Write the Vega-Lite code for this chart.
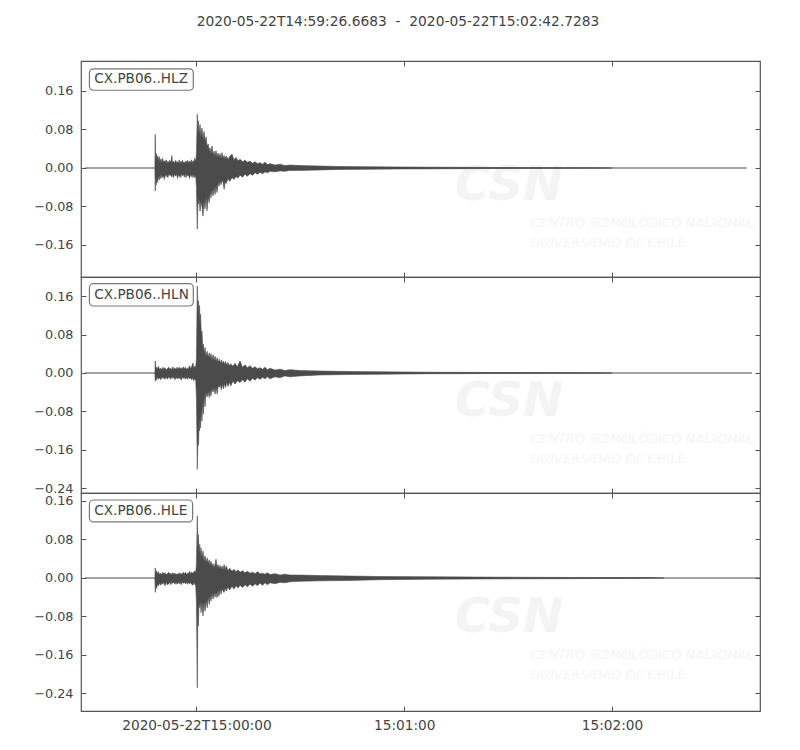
{
"$schema": "https://vega.github.io/schema/vega-lite/v6.json",
"padding": {"left": 33, "top": 15, "right": 5, "bottom": 5},
"title": {"text": "2020-05-22T14:59:26.6683 \u00a0-\u00a0 2020-05-22T15:02:42.7283", "fontSize": 13.8, "fontWeight": "normal", "color": "#444", "anchor": "middle", "frame": "bounds", "offset": 31, "font": "DejaVu Sans"},
"spacing": 0,
"bounds": "flush",
"resolve": {"scale": {"y": "independent"}},
"datasets": {
"env_z": [
{"t":-12.0,"hi":0,"lo":0},{"t":-11.9,"hi":0.070,"lo":-0.048},{"t":-11.75,"hi":0.02,"lo":-0.02},{"t":-11.6,"hi":0.03,"lo":-0.035},{"t":-11.4,"hi":0.018,"lo":-0.02},{"t":-11.2,"hi":0.025,"lo":-0.03},{"t":-11.0,"hi":0.015,"lo":-0.018},{"t":-10.75,"hi":0.024,"lo":-0.025},{"t":-10.5,"hi":0.012,"lo":-0.015},{"t":-10.25,"hi":0.019,"lo":-0.022},{"t":-10.0,"hi":0.012,"lo":-0.014},{"t":-9.75,"hi":0.02,"lo":-0.02},{"t":-9.5,"hi":0.011,"lo":-0.016},{"t":-9.25,"hi":0.015,"lo":-0.024},{"t":-9.0,"hi":0.012,"lo":-0.013},{"t":-8.75,"hi":0.017,"lo":-0.018},{"t":-8.5,"hi":0.01,"lo":-0.014},{"t":-8.25,"hi":0.014,"lo":-0.02},{"t":-8.0,"hi":0.011,"lo":-0.012},{"t":-7.7,"hi":0.016,"lo":-0.016},{"t":-7.4,"hi":0.011,"lo":-0.014},{"t":-7.1,"hi":0.026,"lo":-0.019},{"t":-6.9,"hi":0.01,"lo":-0.013},{"t":-6.6,"hi":0.014,"lo":-0.02},{"t":-6.3,"hi":0.01,"lo":-0.012},{"t":-6.0,"hi":0.016,"lo":-0.017},{"t":-5.7,"hi":0.011,"lo":-0.013},{"t":-5.45,"hi":0.013,"lo":-0.022},{"t":-5.2,"hi":0.01,"lo":-0.013},{"t":-5.0,"hi":0.017,"lo":-0.018},{"t":-4.75,"hi":0.01,"lo":-0.014},{"t":-4.5,"hi":0.014,"lo":-0.02},{"t":-4.25,"hi":0.011,"lo":-0.012},{"t":-4.0,"hi":0.016,"lo":-0.016},{"t":-3.75,"hi":0.01,"lo":-0.013},{"t":-3.5,"hi":0.013,"lo":-0.019},{"t":-3.25,"hi":0.01,"lo":-0.012},{"t":-3.0,"hi":0.015,"lo":-0.02},{"t":-2.75,"hi":0.011,"lo":-0.013},{"t":-2.5,"hi":0.016,"lo":-0.017},{"t":-2.25,"hi":0.01,"lo":-0.014},{"t":-2.0,"hi":0.014,"lo":-0.022},{"t":-1.75,"hi":0.011,"lo":-0.013},{"t":-1.5,"hi":0.017,"lo":-0.018},{"t":-1.25,"hi":0.01,"lo":-0.014},{"t":-1.0,"hi":0.015,"lo":-0.02},{"t":-0.75,"hi":0.012,"lo":-0.013},{"t":-0.5,"hi":0.02,"lo":-0.02},{"t":-0.2,"hi":0.014,"lo":-0.016},{"t":0.0,"hi":0.03,"lo":-0.04},{"t":0.25,"hi":0.112,"lo":-0.127},{"t":0.45,"hi":0.07,"lo":-0.06},{"t":0.6,"hi":0.098,"lo":-0.075},{"t":0.8,"hi":0.07,"lo":-0.065},{"t":1.04,"hi":0.09,"lo":-0.09},{"t":1.3,"hi":0.065,"lo":-0.07},{"t":1.6,"hi":0.083,"lo":-0.08},{"t":1.9,"hi":0.06,"lo":-0.1},{"t":2.2,"hi":0.076,"lo":-0.07},{"t":2.48,"hi":0.055,"lo":-0.085},{"t":2.8,"hi":0.065,"lo":-0.06},{"t":3.06,"hi":0.045,"lo":-0.089},{"t":3.4,"hi":0.05,"lo":-0.06},{"t":3.7,"hi":0.035,"lo":-0.072},{"t":3.93,"hi":0.042,"lo":-0.05},{"t":4.2,"hi":0.03,"lo":-0.062},{"t":4.5,"hi":0.046,"lo":-0.045},{"t":4.8,"hi":0.028,"lo":-0.058},{"t":5.1,"hi":0.035,"lo":-0.04},{"t":5.37,"hi":0.025,"lo":-0.055},{"t":5.65,"hi":0.036,"lo":-0.038},{"t":5.95,"hi":0.024,"lo":-0.051},{"t":6.25,"hi":0.031,"lo":-0.03},{"t":6.5,"hi":0.022,"lo":-0.038},{"t":6.81,"hi":0.03,"lo":-0.028},{"t":7.1,"hi":0.02,"lo":-0.035},{"t":7.39,"hi":0.032,"lo":-0.026},{"t":7.7,"hi":0.021,"lo":-0.03},{"t":8.0,"hi":0.026,"lo":-0.044},{"t":8.26,"hi":0.019,"lo":-0.03},{"t":8.6,"hi":0.025,"lo":-0.032},{"t":9.12,"hi":0.018,"lo":-0.022},{"t":9.6,"hi":0.024,"lo":-0.028},{"t":10.28,"hi":0.029,"lo":-0.02},{"t":10.8,"hi":0.017,"lo":-0.024},{"t":11.43,"hi":0.022,"lo":-0.018},{"t":12.0,"hi":0.015,"lo":-0.021},{"t":12.59,"hi":0.018,"lo":-0.015},{"t":13.3,"hi":0.013,"lo":-0.019},{"t":14.03,"hi":0.016,"lo":-0.013},{"t":14.7,"hi":0.012,"lo":-0.017},{"t":15.48,"hi":0.014,"lo":-0.012},{"t":16.2,"hi":0.01,"lo":-0.015},{"t":16.92,"hi":0.013,"lo":-0.01},{"t":17.6,"hi":0.009,"lo":-0.013},{"t":18.37,"hi":0.011,"lo":-0.009},{"t":19.1,"hi":0.008,"lo":-0.012},{"t":19.8,"hi":0.012,"lo":-0.008},{"t":20.5,"hi":0.007,"lo":-0.01},{"t":21.25,"hi":0.009,"lo":-0.007},{"t":22.7,"hi":0.006,"lo":-0.008},{"t":24.14,"hi":0.008,"lo":-0.006},{"t":25.5,"hi":0.005,"lo":-0.007},{"t":27.0,"hi":0.006,"lo":-0.005},{"t":29.9,"hi":0.005,"lo":-0.005},{"t":35.7,"hi":0.004,"lo":-0.004},{"t":41.5,"hi":0.003,"lo":-0.003},{"t":50.1,"hi":0.0025,"lo":-0.0025},{"t":58.8,"hi":0.002,"lo":-0.002},{"t":73.2,"hi":0.0015,"lo":-0.0015},{"t":87.7,"hi":0.001,"lo":-0.001},{"t":116.6,"hi":0.0007,"lo":-0.0007},{"t":120,"hi":0,"lo":0}
],
"env_n": [
{"t":-12.0,"hi":0,"lo":0},{"t":-11.9,"hi":0.025,"lo":-0.017},{"t":-11.7,"hi":0.009,"lo":-0.01},{"t":-11.5,"hi":0.012,"lo":-0.015},{"t":-11.25,"hi":0.008,"lo":-0.009},{"t":-11.0,"hi":0.014,"lo":-0.012},{"t":-10.7,"hi":0.008,"lo":-0.01},{"t":-10.3,"hi":0.01,"lo":-0.014},{"t":-10.0,"hi":0.007,"lo":-0.009},{"t":-9.7,"hi":0.012,"lo":-0.011},{"t":-9.4,"hi":0.008,"lo":-0.01},{"t":-9.1,"hi":0.011,"lo":-0.013},{"t":-8.7,"hi":0.007,"lo":-0.008},{"t":-8.4,"hi":0.009,"lo":-0.013},{"t":-8.0,"hi":0.012,"lo":-0.009},{"t":-7.7,"hi":0.008,"lo":-0.01},{"t":-7.4,"hi":0.01,"lo":-0.013},{"t":-7.1,"hi":0.007,"lo":-0.008},{"t":-6.8,"hi":0.013,"lo":-0.011},{"t":-6.5,"hi":0.008,"lo":-0.009},{"t":-6.2,"hi":0.01,"lo":-0.014},{"t":-5.9,"hi":0.008,"lo":-0.009},{"t":-5.6,"hi":0.012,"lo":-0.012},{"t":-5.3,"hi":0.008,"lo":-0.01},{"t":-5.0,"hi":0.012,"lo":-0.012},{"t":-4.7,"hi":0.009,"lo":-0.009},{"t":-4.4,"hi":0.011,"lo":-0.015},{"t":-4.1,"hi":0.008,"lo":-0.01},{"t":-3.8,"hi":0.013,"lo":-0.011},{"t":-3.5,"hi":0.009,"lo":-0.009},{"t":-3.2,"hi":0.012,"lo":-0.013},{"t":-2.9,"hi":0.008,"lo":-0.009},{"t":-2.6,"hi":0.01,"lo":-0.013},{"t":-2.3,"hi":0.009,"lo":-0.009},{"t":-2.0,"hi":0.015,"lo":-0.012},{"t":-1.7,"hi":0.009,"lo":-0.01},{"t":-1.4,"hi":0.013,"lo":-0.014},{"t":-1.0,"hi":0.021,"lo":-0.011},{"t":-0.75,"hi":0.01,"lo":-0.016},{"t":-0.5,"hi":0.014,"lo":-0.012},{"t":-0.2,"hi":0.012,"lo":-0.016},{"t":0.0,"hi":0.03,"lo":-0.05},{"t":0.25,"hi":0.181,"lo":-0.2},{"t":0.45,"hi":0.13,"lo":-0.13},{"t":0.6,"hi":0.15,"lo":-0.15},{"t":0.75,"hi":0.12,"lo":-0.11},{"t":0.9,"hi":0.14,"lo":-0.12},{"t":1.04,"hi":0.1,"lo":-0.09},{"t":1.2,"hi":0.122,"lo":-0.114},{"t":1.4,"hi":0.08,"lo":-0.075},{"t":1.6,"hi":0.087,"lo":-0.1},{"t":1.8,"hi":0.055,"lo":-0.06},{"t":2.0,"hi":0.06,"lo":-0.086},{"t":2.25,"hi":0.04,"lo":-0.045},{"t":2.48,"hi":0.053,"lo":-0.07},{"t":2.75,"hi":0.035,"lo":-0.04},{"t":3.06,"hi":0.045,"lo":-0.05},{"t":3.4,"hi":0.032,"lo":-0.04},{"t":3.7,"hi":0.042,"lo":-0.051},{"t":3.93,"hi":0.03,"lo":-0.036},{"t":4.2,"hi":0.04,"lo":-0.048},{"t":4.5,"hi":0.027,"lo":-0.032},{"t":4.8,"hi":0.038,"lo":-0.04},{"t":5.1,"hi":0.026,"lo":-0.03},{"t":5.37,"hi":0.035,"lo":-0.044},{"t":5.7,"hi":0.024,"lo":-0.03},{"t":6.0,"hi":0.032,"lo":-0.044},{"t":6.3,"hi":0.022,"lo":-0.026},{"t":6.6,"hi":0.029,"lo":-0.03},{"t":6.9,"hi":0.02,"lo":-0.024},{"t":7.2,"hi":0.027,"lo":-0.035},{"t":7.5,"hi":0.019,"lo":-0.023},{"t":7.8,"hi":0.025,"lo":-0.033},{"t":8.1,"hi":0.018,"lo":-0.022},{"t":8.4,"hi":0.024,"lo":-0.03},{"t":8.8,"hi":0.016,"lo":-0.02},{"t":9.12,"hi":0.022,"lo":-0.028},{"t":9.5,"hi":0.015,"lo":-0.019},{"t":9.9,"hi":0.019,"lo":-0.027},{"t":10.5,"hi":0.014,"lo":-0.017},{"t":11.15,"hi":0.02,"lo":-0.023},{"t":11.8,"hi":0.013,"lo":-0.016},{"t":12.59,"hi":0.025,"lo":-0.02},{"t":13.3,"hi":0.012,"lo":-0.014},{"t":14.03,"hi":0.017,"lo":-0.019},{"t":14.7,"hi":0.011,"lo":-0.012},{"t":15.48,"hi":0.015,"lo":-0.017},{"t":16.2,"hi":0.01,"lo":-0.011},{"t":16.92,"hi":0.013,"lo":-0.015},{"t":17.6,"hi":0.009,"lo":-0.01},{"t":18.37,"hi":0.011,"lo":-0.013},{"t":19.1,"hi":0.008,"lo":-0.009},{"t":19.8,"hi":0.012,"lo":-0.012},{"t":20.5,"hi":0.007,"lo":-0.008},{"t":21.25,"hi":0.01,"lo":-0.012},{"t":22.7,"hi":0.006,"lo":-0.008},{"t":24.14,"hi":0.008,"lo":-0.01},{"t":25.5,"hi":0.005,"lo":-0.006},{"t":27.0,"hi":0.007,"lo":-0.008},{"t":29.9,"hi":0.005,"lo":-0.006},{"t":35.7,"hi":0.004,"lo":-0.004},{"t":44.3,"hi":0.003,"lo":-0.003},{"t":53.0,"hi":0.0025,"lo":-0.0025},{"t":67.4,"hi":0.0015,"lo":-0.0015},{"t":87.7,"hi":0.001,"lo":-0.001},{"t":116.6,"hi":0.0007,"lo":-0.0007},{"t":120,"hi":0,"lo":0}
],
"env_e": [
{"t":-12.0,"hi":0,"lo":0},{"t":-11.9,"hi":0.021,"lo":-0.03},{"t":-11.7,"hi":0.01,"lo":-0.014},{"t":-11.5,"hi":0.015,"lo":-0.022},{"t":-11.25,"hi":0.009,"lo":-0.012},{"t":-11.0,"hi":0.013,"lo":-0.017},{"t":-10.7,"hi":0.008,"lo":-0.011},{"t":-10.3,"hi":0.01,"lo":-0.015},{"t":-10.0,"hi":0.007,"lo":-0.01},{"t":-9.7,"hi":0.012,"lo":-0.013},{"t":-9.4,"hi":0.008,"lo":-0.009},{"t":-9.1,"hi":0.011,"lo":-0.016},{"t":-8.7,"hi":0.007,"lo":-0.009},{"t":-8.4,"hi":0.009,"lo":-0.014},{"t":-8.0,"hi":0.012,"lo":-0.012},{"t":-7.7,"hi":0.008,"lo":-0.009},{"t":-7.4,"hi":0.01,"lo":-0.014},{"t":-7.1,"hi":0.007,"lo":-0.009},{"t":-6.8,"hi":0.011,"lo":-0.011},{"t":-6.5,"hi":0.008,"lo":-0.009},{"t":-6.2,"hi":0.01,"lo":-0.013},{"t":-5.9,"hi":0.007,"lo":-0.009},{"t":-5.6,"hi":0.009,"lo":-0.013},{"t":-5.3,"hi":0.007,"lo":-0.009},{"t":-5.0,"hi":0.011,"lo":-0.012},{"t":-4.7,"hi":0.008,"lo":-0.009},{"t":-4.4,"hi":0.01,"lo":-0.014},{"t":-4.1,"hi":0.007,"lo":-0.009},{"t":-3.8,"hi":0.012,"lo":-0.011},{"t":-3.5,"hi":0.008,"lo":-0.009},{"t":-3.2,"hi":0.012,"lo":-0.012},{"t":-2.9,"hi":0.008,"lo":-0.009},{"t":-2.6,"hi":0.01,"lo":-0.013},{"t":-2.3,"hi":0.009,"lo":-0.009},{"t":-2.0,"hi":0.014,"lo":-0.012},{"t":-1.7,"hi":0.009,"lo":-0.01},{"t":-1.4,"hi":0.012,"lo":-0.013},{"t":-1.0,"hi":0.01,"lo":-0.015},{"t":-0.75,"hi":0.012,"lo":-0.01},{"t":-0.5,"hi":0.015,"lo":-0.013},{"t":-0.2,"hi":0.011,"lo":-0.016},{"t":0.0,"hi":0.03,"lo":-0.05},{"t":0.25,"hi":0.129,"lo":-0.228},{"t":0.4,"hi":0.06,"lo":-0.07},{"t":0.55,"hi":0.09,"lo":-0.1},{"t":0.75,"hi":0.05,"lo":-0.05},{"t":0.95,"hi":0.07,"lo":-0.062},{"t":1.15,"hi":0.045,"lo":-0.05},{"t":1.33,"hi":0.063,"lo":-0.072},{"t":1.6,"hi":0.042,"lo":-0.05},{"t":1.9,"hi":0.056,"lo":-0.079},{"t":2.2,"hi":0.035,"lo":-0.05},{"t":2.48,"hi":0.046,"lo":-0.069},{"t":2.8,"hi":0.032,"lo":-0.045},{"t":3.1,"hi":0.042,"lo":-0.062},{"t":3.4,"hi":0.03,"lo":-0.04},{"t":3.7,"hi":0.038,"lo":-0.055},{"t":3.93,"hi":0.027,"lo":-0.036},{"t":4.2,"hi":0.035,"lo":-0.048},{"t":4.5,"hi":0.025,"lo":-0.032},{"t":4.8,"hi":0.03,"lo":-0.044},{"t":5.1,"hi":0.022,"lo":-0.03},{"t":5.37,"hi":0.028,"lo":-0.04},{"t":5.65,"hi":0.039,"lo":-0.03},{"t":5.95,"hi":0.022,"lo":-0.041},{"t":6.25,"hi":0.028,"lo":-0.026},{"t":6.5,"hi":0.02,"lo":-0.038},{"t":6.81,"hi":0.026,"lo":-0.024},{"t":7.1,"hi":0.018,"lo":-0.034},{"t":7.39,"hi":0.025,"lo":-0.022},{"t":7.7,"hi":0.017,"lo":-0.028},{"t":8.0,"hi":0.028,"lo":-0.03},{"t":8.26,"hi":0.017,"lo":-0.021},{"t":8.6,"hi":0.025,"lo":-0.027},{"t":9.12,"hi":0.015,"lo":-0.019},{"t":9.6,"hi":0.02,"lo":-0.025},{"t":10.28,"hi":0.014,"lo":-0.017},{"t":10.8,"hi":0.018,"lo":-0.023},{"t":11.43,"hi":0.013,"lo":-0.016},{"t":12.0,"hi":0.017,"lo":-0.021},{"t":12.59,"hi":0.012,"lo":-0.015},{"t":13.3,"hi":0.015,"lo":-0.02},{"t":14.03,"hi":0.011,"lo":-0.014},{"t":14.7,"hi":0.014,"lo":-0.018},{"t":15.48,"hi":0.01,"lo":-0.013},{"t":16.2,"hi":0.012,"lo":-0.017},{"t":16.92,"hi":0.009,"lo":-0.012},{"t":17.6,"hi":0.013,"lo":-0.016},{"t":18.37,"hi":0.009,"lo":-0.011},{"t":19.1,"hi":0.01,"lo":-0.015},{"t":19.8,"hi":0.008,"lo":-0.01},{"t":20.5,"hi":0.011,"lo":-0.014},{"t":21.25,"hi":0.007,"lo":-0.01},{"t":22.7,"hi":0.009,"lo":-0.012},{"t":24.14,"hi":0.006,"lo":-0.009},{"t":25.5,"hi":0.008,"lo":-0.01},{"t":27.0,"hi":0.006,"lo":-0.008},{"t":29.9,"hi":0.006,"lo":-0.007},{"t":35.7,"hi":0.005,"lo":-0.006},{"t":44.3,"hi":0.004,"lo":-0.005},{"t":53.0,"hi":0.003,"lo":-0.0035},{"t":67.4,"hi":0.0025,"lo":-0.0025},{"t":81.9,"hi":0.0018,"lo":-0.002},{"t":102.1,"hi":0.0012,"lo":-0.0015},{"t":131,"hi":0.0008,"lo":-0.0008},{"t":135,"hi":0,"lo":0}
],
"base_z": [{"t":-32.2,"v":0},{"t":158.9,"v":0}],
"base_n": [{"t":-32.2,"v":0},{"t":160.4,"v":0}],
"base_e": [{"t":-32.2,"v":0},{"t":162.7,"v":0}],
"lab_z": [{"label":"CX.PB06..HLZ"}],
"lab_n": [{"label":"CX.PB06..HLN"}],
"lab_e": [{"label":"CX.PB06..HLE"}]
},
"vconcat": [
{
"width": 679, "height": 216,
"layer": [
{"data":{"name":"lab_z"},"mark":{"type":"text","text":"CSN","fontSize":48,"fontStyle":"italic","fontWeight":"bold","color":"#f4f4f4","align":"left","baseline":"middle"},"encoding":{"x":{"datum":74.6,"axis":null},"y":{"datum":-0.0374,"axis":null}}},
{"data":{"name":"lab_z"},"mark":{"type":"text","text":"CENTRO SISMOLÓGICO NACIONAL","fontSize":13,"fontStyle":"italic","color":"#f4f4f4","align":"left","baseline":"middle"},"encoding":{"x":{"datum":96.6,"axis":null},"y":{"datum":-0.114,"axis":null}}},
{"data":{"name":"lab_z"},"mark":{"type":"text","text":"UNIVERSIDAD DE CHILE","fontSize":13,"fontStyle":"italic","color":"#f4f4f4","align":"left","baseline":"middle"},"encoding":{"x":{"datum":96.6,"axis":null},"y":{"datum":-0.156,"axis":null}}},
{"data":{"name":"env_z"},"mark":{"type":"area","color":"#4b4b4b","stroke":"#4b4b4b","strokeWidth":0.6},
 "encoding":{
  "x":{"field":"t","type":"quantitative","scale":{"domain":[-33.3317,162.7283],"nice":false,"zero":false},"axis":{"orient":"bottom","labels":false,"values":[0,60,120],"title":null}},
  "y":{"field":"hi","type":"quantitative","scale":{"domain":[-0.2265,0.2223],"nice":false,"zero":false},"axis":{"orient":"left","values":[-0.16,-0.08,0,0.08,0.16],"title":null,"labelExpr":"replace(format(datum.value, '.2f'), '-', '−')"}},
  "y2":{"field":"lo"}}},
{"data":{"name":"base_z"},"mark":{"type":"line","color":"#4b4b4b","strokeWidth":1.2},
 "encoding":{
  "x":{"field":"t","type":"quantitative","axis":{"orient":"top","labels":false,"values":[0,60,120],"title":null}},
  "y":{"field":"v","type":"quantitative","axis":{"orient":"right","labels":false,"values":[-0.16,-0.08,0,0.08,0.16],"title":null}}}},
{"data":{"name":"lab_z"},"mark":{"type":"rect","fill":"white","stroke":"#777","strokeWidth":1.2,"cornerRadius":4},"encoding":{"x":{"datum":-30.9,"axis":null},"x2":{"datum":-0.9},"y":{"datum":0.206,"axis":null},"y2":{"datum":0.1615}}},
{"data":{"name":"lab_z"},"mark":{"type":"text","align":"left","baseline":"middle","fontSize":13.6,"color":"#444"},"encoding":{"x":{"datum":-29.5,"axis":null},"y":{"datum":0.1845,"axis":null},"text":{"field":"label"}}}
]
},
{
"width": 679, "height": 216,
"layer": [
{"data":{"name":"lab_n"},"mark":{"type":"text","text":"CSN","fontSize":48,"fontStyle":"italic","fontWeight":"bold","color":"#f4f4f4","align":"left","baseline":"middle"},"encoding":{"x":{"datum":74.6,"axis":null},"y":{"datum":-0.060,"axis":null}}},
{"data":{"name":"lab_n"},"mark":{"type":"text","text":"CENTRO SISMOLÓGICO NACIONAL","fontSize":13,"fontStyle":"italic","color":"#f4f4f4","align":"left","baseline":"middle"},"encoding":{"x":{"datum":96.6,"axis":null},"y":{"datum":-0.137,"axis":null}}},
{"data":{"name":"lab_n"},"mark":{"type":"text","text":"UNIVERSIDAD DE CHILE","fontSize":13,"fontStyle":"italic","color":"#f4f4f4","align":"left","baseline":"middle"},"encoding":{"x":{"datum":96.6,"axis":null},"y":{"datum":-0.179,"axis":null}}},
{"data":{"name":"env_n"},"mark":{"type":"area","color":"#4b4b4b","stroke":"#4b4b4b","strokeWidth":0.6},
 "encoding":{
  "x":{"field":"t","type":"quantitative","scale":{"domain":[-33.3317,162.7283],"nice":false,"zero":false},"axis":{"orient":"bottom","labels":false,"values":[0,60,120],"title":null}},
  "y":{"field":"hi","type":"quantitative","scale":{"domain":[-0.2494,0.1995],"nice":false,"zero":false},"axis":{"orient":"left","values":[-0.24,-0.16,-0.08,0,0.08,0.16],"title":null,"labelExpr":"replace(format(datum.value, '.2f'), '-', '−')"}},
  "y2":{"field":"lo"}}},
{"data":{"name":"base_n"},"mark":{"type":"line","color":"#4b4b4b","strokeWidth":1.2},
 "encoding":{
  "x":{"field":"t","type":"quantitative","axis":{"orient":"top","labels":false,"values":[0,60,120],"title":null}},
  "y":{"field":"v","type":"quantitative","axis":{"orient":"right","labels":false,"values":[-0.24,-0.16,-0.08,0,0.08,0.16],"title":null}}}},
{"data":{"name":"lab_n"},"mark":{"type":"rect","fill":"white","stroke":"#777","strokeWidth":1.2,"cornerRadius":4},"encoding":{"x":{"datum":-30.9,"axis":null},"x2":{"datum":-0.9},"y":{"datum":0.1856,"axis":null},"y2":{"datum":0.1392}}},
{"data":{"name":"lab_n"},"mark":{"type":"text","align":"left","baseline":"middle","fontSize":13.6,"color":"#444"},"encoding":{"x":{"datum":-29.5,"axis":null},"y":{"datum":0.1624,"axis":null},"text":{"field":"label"}}}
]
},
{
"width": 679, "height": 218,
"layer": [
{"data":{"name":"lab_e"},"mark":{"type":"text","text":"CSN","fontSize":48,"fontStyle":"italic","fontWeight":"bold","color":"#f4f4f4","align":"left","baseline":"middle"},"encoding":{"x":{"datum":74.6,"axis":null},"y":{"datum":-0.083,"axis":null}}},
{"data":{"name":"lab_e"},"mark":{"type":"text","text":"CENTRO SISMOLÓGICO NACIONAL","fontSize":13,"fontStyle":"italic","color":"#f4f4f4","align":"left","baseline":"middle"},"encoding":{"x":{"datum":96.6,"axis":null},"y":{"datum":-0.160,"axis":null}}},
{"data":{"name":"lab_e"},"mark":{"type":"text","text":"UNIVERSIDAD DE CHILE","fontSize":13,"fontStyle":"italic","color":"#f4f4f4","align":"left","baseline":"middle"},"encoding":{"x":{"datum":96.6,"axis":null},"y":{"datum":-0.2016,"axis":null}}},
{"data":{"name":"env_e"},"mark":{"type":"area","color":"#4b4b4b","stroke":"#4b4b4b","strokeWidth":0.6},
 "encoding":{
  "x":{"field":"t","type":"quantitative","scale":{"domain":[-33.3317,162.7283],"nice":false,"zero":false},"axis":{"orient":"bottom","values":[0,60,120],"title":null,"labelPadding":12,"labelFontSize":13.7,"labelExpr":"utcFormat(1590159600000 + datum.value * 1000, datum.value == 0 ? '%Y-%m-%dT%H:%M:%S' : '%H:%M:%S')"}},
  "y":{"field":"hi","type":"quantitative","scale":{"domain":[-0.2764,0.1766],"nice":false,"zero":false},"axis":{"orient":"left","values":[-0.24,-0.16,-0.08,0,0.08,0.16],"title":null,"labelExpr":"replace(format(datum.value, '.2f'), '-', '−')"}},
  "y2":{"field":"lo"}}},
{"data":{"name":"base_e"},"mark":{"type":"line","color":"#4b4b4b","strokeWidth":1.2},
 "encoding":{
  "x":{"field":"t","type":"quantitative","axis":{"orient":"top","labels":false,"values":[0,60,120],"title":null}},
  "y":{"field":"v","type":"quantitative","axis":{"orient":"right","labels":false,"values":[-0.24,-0.16,-0.08,0,0.08,0.16],"title":null}}}},
{"data":{"name":"lab_e"},"mark":{"type":"rect","fill":"white","stroke":"#777","strokeWidth":1.2,"cornerRadius":4},"encoding":{"x":{"datum":-30.9,"axis":null},"x2":{"datum":-1.1},"y":{"datum":0.1621,"axis":null},"y2":{"datum":0.1164}}},
{"data":{"name":"lab_e"},"mark":{"type":"text","align":"left","baseline":"middle","fontSize":13.6,"color":"#444"},"encoding":{"x":{"datum":-29.5,"axis":null},"y":{"datum":0.1392,"axis":null},"text":{"field":"label"}}}
]
}
],
"config": {
"font": "DejaVu Sans",
"view": {"stroke": "#555", "strokeWidth": 1.2},
"axis": {"grid": false, "domain": false, "tickColor": "#555", "tickSize": -5, "tickWidth": 1, "labelColor": "#444", "labelFontSize": 12.8, "labelFont": "DejaVu Sans", "labelPadding": 13}
}
}
